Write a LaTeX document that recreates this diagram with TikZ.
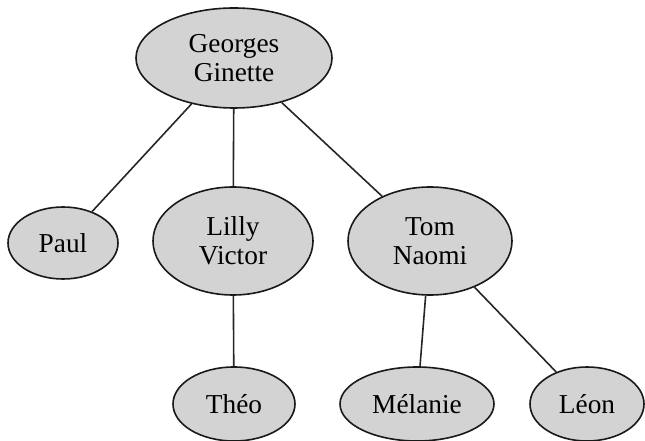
\documentclass[tikz,border=0pt]{standalone}
\usepackage{fontspec}
\setmainfont{Liberation Serif}
\usetikzlibrary{shapes.geometric}
\definecolor{nodefill}{RGB}{211,211,211}
\tikzset{
  person/.style={ellipse, draw=black!90, line width=1.2pt, fill=nodefill, inner sep=0pt,
    align=center, font=\fontsize{20.5}{22}\selectfont},
  link/.style={draw=black!85, line width=1.2pt}
}
\begin{document}
\begin{tikzpicture}[x=0.75pt,y=-0.75pt]
\useasboundingbox (0,0) rectangle (645,441);
\node[person, minimum width=147pt, minimum height=75pt] (gg) at (234,58) {Georges\\Ginette};
\node[person, minimum width=82.5pt, minimum height=54pt] (paul) at (63,243) {Paul};
\node[person, minimum width=120pt, minimum height=81pt] (lv) at (233,241) {Lilly\\Victor};
\node[person, minimum width=123pt, minimum height=81pt] (tn) at (430,241) {Tom\\Naomi};
\node[person, minimum width=91.5pt, minimum height=55.5pt] (theo) at (234,404) {Théo};
\node[person, minimum width=115.5pt, minimum height=55.5pt] (mel) at (417,404) {Mélanie};
\node[person, minimum width=85.5pt, minimum height=55.5pt] (leon) at (587,404) {Léon};
\draw[link] (gg) -- (paul);
\draw[link] (gg) -- (lv);
\draw[link] (gg) -- (tn);
\draw[link] (lv) -- (theo);
\draw[link] (tn) -- (mel);
\draw[link] (tn) -- (leon);
\end{tikzpicture}
\end{document}
